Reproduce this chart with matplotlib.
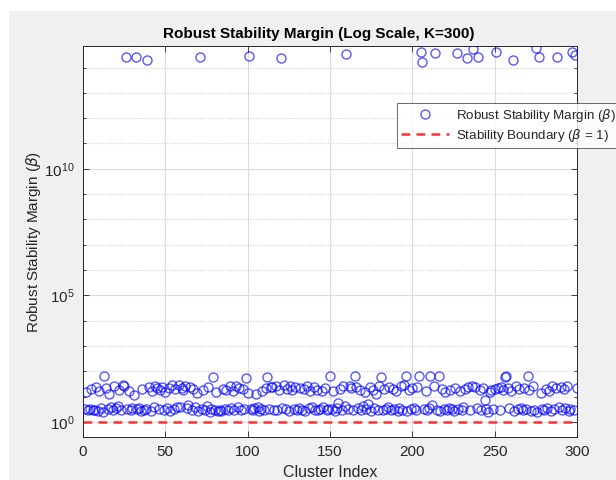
import numpy as np
import matplotlib
matplotlib.use("Agg")
import matplotlib.pyplot as plt
from matplotlib.patches import Rectangle

plt.rcParams["font.family"] = ["Liberation Sans", "DejaVu Sans"]
plt.rcParams["mathtext.fontset"] = "dejavusans"

# cluster index 1..300 and robust stability margin beta
cluster_idx = np.arange(1, 301)
beta = [
    3.1, 14.5, 2.8, 3.3, 19.8, 2.9, 3.0, 24.1, 2.7, 17.2,
    3.4, 2.5, 62.0, 21.0, 3.2, 12.8, 3.8, 2.9, 26.5, 3.6,
    4.1, 18.3, 3.0, 27.4, 25.8, 2.5e14, 3.3, 16.0, 2.8, 3.5,
    11.5, 2.5e14, 3.1, 3.4, 2.6, 20.7, 2.9, 3.2, 1.9e14, 23.0,
    2.7, 16.9, 3.9, 26.0, 21.8, 3.1, 18.8, 24.6, 2.9, 15.3,
    3.5, 22.4, 2.6, 27.9, 3.2, 19.1, 3.7, 28.6, 4.0, 21.3,
    17.6, 26.2, 3.4, 4.6, 24.0, 3.0, 19.5, 3.8, 13.4, 2.7,
    2.6e14, 3.3, 17.9, 2.9, 4.2, 23.3, 2.5, 3.1, 58.0, 2.8,
    15.7, 2.6, 3.0, 2.7, 20.4, 3.2, 18.1, 2.9, 25.3, 3.6,
    16.6, 3.0, 27.0, 3.9, 22.0, 2.8, 19.0, 3.3, 56.0, 14.1,
    2.8e14, 3.1, 2.9, 3.4, 12.9, 3.8, 2.6, 3.1, 16.3, 2.8,
    20.9, 60.0, 3.2, 22.7, 24.8, 3.0, 26.9, 2.9, 18.6, 2.3e14,
    3.5, 27.6, 3.1, 20.2, 2.7, 25.4, 17.4, 3.3, 23.6, 2.8,
    3.6, 21.5, 3.0, 19.9, 2.6, 26.4, 3.4, 16.8, 3.9, 24.3,
    3.0, 18.4, 2.8, 3.3, 15.9, 3.7, 22.1, 2.9, 3.2, 63.0,
    3.1, 17.0, 2.6, 3.5, 5.6, 19.6, 3.0, 27.2, 4.4, 3.5e14,
    3.2, 25.0, 21.2, 2.8, 64.0, 23.9, 3.6, 18.0, 2.9, 4.3,
    15.4, 3.1, 5.0, 24.4, 2.7, 17.7, 3.4, 12.6, 3.0, 26.7,
    61.0, 2.8, 19.3, 3.3, 3.8, 22.9, 2.9, 20.0, 3.1, 17.1,
    2.6, 3.5, 25.9, 3.0, 27.3, 62.0, 2.7, 18.7, 3.2, 21.6,
    3.6, 2.9, 24.2, 65.0, 4.2e14, 1.7e14, 3.1, 16.1, 2.8, 3.4,
    66.0, 4.5, 26.1, 3.6e14, 3.0, 64.0, 2.7, 19.4, 3.3, 14.8,
    2.9, 3.5, 17.3, 3.1, 2.6, 22.5, 3.6e14, 3.2, 16.5, 2.8,
    3.7, 20.6, 2.3e14, 24.7, 3.0, 26.6, 5.6e14, 23.1, 3.4, 2.5e14,
    18.5, 2.9, 21.9, 7.0, 3.1, 2.4, 15.1, 18.9, 3.3, 20.1,
    4.2e14, 22.3, 3.0, 23.4, 17.8, 60.0, 63.0, 20.8, 3.6, 16.4,
    2.0e14, 2.7, 24.9, 3.2, 19.7, 3.4, 2.8, 21.4, 3.1, 62.0,
    18.2, 2.6, 26.8, 3.0, 6.0e14, 2.5, 2.5e14, 13.9, 3.3, 2.9,
    20.5, 3.5, 16.7, 2.7, 25.6, 3.1, 22.6, 2.5e14, 3.8, 24.5,
    2.8, 19.2, 3.4, 26.3, 2.6, 3.2, 4.0e14, 2.9, 3.2e14, 21.7,
]
boundary = 1.0

x_ticks = [0, 50, 100, 150, 200, 250, 300]
y_ticks = [1e0, 1e5, 1e10]

W, H = 616, 480
fig = plt.figure(figsize=(W / 100, H / 100), dpi=100)
fig.patch.set_facecolor("white")
# matlab-style grey figure area
fig.patches.append(Rectangle((9 / W, 0), 1, 1 - 11 / H, transform=fig.transFigure,
                             facecolor="#f0f0f0", edgecolor="none", zorder=-10))

ax = fig.add_axes([83 / W, 43 / H, 494 / W, 391 / H])
ax.set_facecolor("white")

ax.plot(cluster_idx, beta, linestyle="none", marker="o", markersize=6.5,
        markerfacecolor="none", markeredgecolor=(0, 0, 1, 0.65), markeredgewidth=1.0,
        label=r"Robust Stability Margin ($\beta$)", zorder=3)
ax.axhline(boundary, color="#ff3030", linestyle=(0, (3.5, 2.5)), linewidth=1.8,
           label=r"Stability Boundary ($\beta$ = 1)", zorder=2)

ax.set_yscale("log")
ax.set_xlim(0, 300)
ax.set_ylim(10 ** -0.6, 10 ** 14.85)
ax.set_xticks(x_ticks)
ax.set_yticks(y_ticks)
ax.yaxis.set_minor_locator(matplotlib.ticker.LogLocator(base=10, subs=(1.0,), numticks=40))
ax.yaxis.set_minor_formatter(matplotlib.ticker.NullFormatter())

ax.grid(True, which="major", color="#dcdcdc", linewidth=0.8, linestyle="-", zorder=0)
ax.grid(True, which="minor", axis="y", color="#d0d0d0", linewidth=0.8,
        linestyle=(0, (1, 1.5)), zorder=0)
ax.set_axisbelow(True)

ax.tick_params(which="both", direction="in", top=True, right=True, colors="#262626",
               labelsize=11, width=0.6, pad=6)
ax.tick_params(which="major", length=4)
ax.tick_params(which="minor", length=2)
for s in ax.spines.values():
    s.set_color("#262626")
    s.set_linewidth(0.7)

ax.set_title("Robust Stability Margin (Log Scale, K=300)", fontsize=11,
             fontweight="bold", color="black", pad=6, x=0.478)
ax.set_xlabel("Cluster Index", fontsize=11.5, color="#262626", labelpad=4)
ax.set_ylabel(r"Robust Stability Margin ($\beta$)", fontsize=11, color="#262626", labelpad=1)

leg = ax.legend(loc="upper left", bbox_to_anchor=(397 / W, 1 - 103 / H),
                bbox_transform=fig.transFigure, fontsize=9.6, frameon=True,
                fancybox=False, edgecolor="#262626", handlelength=3.6,
                handletextpad=0.5, borderpad=0.3, labelspacing=0.2,
                borderaxespad=0)
leg.get_frame().set_linewidth(0.6)
for t in leg.get_texts():
    t.set_color("#262626")

fig.savefig("out.png", dpi=100, facecolor=fig.get_facecolor())
